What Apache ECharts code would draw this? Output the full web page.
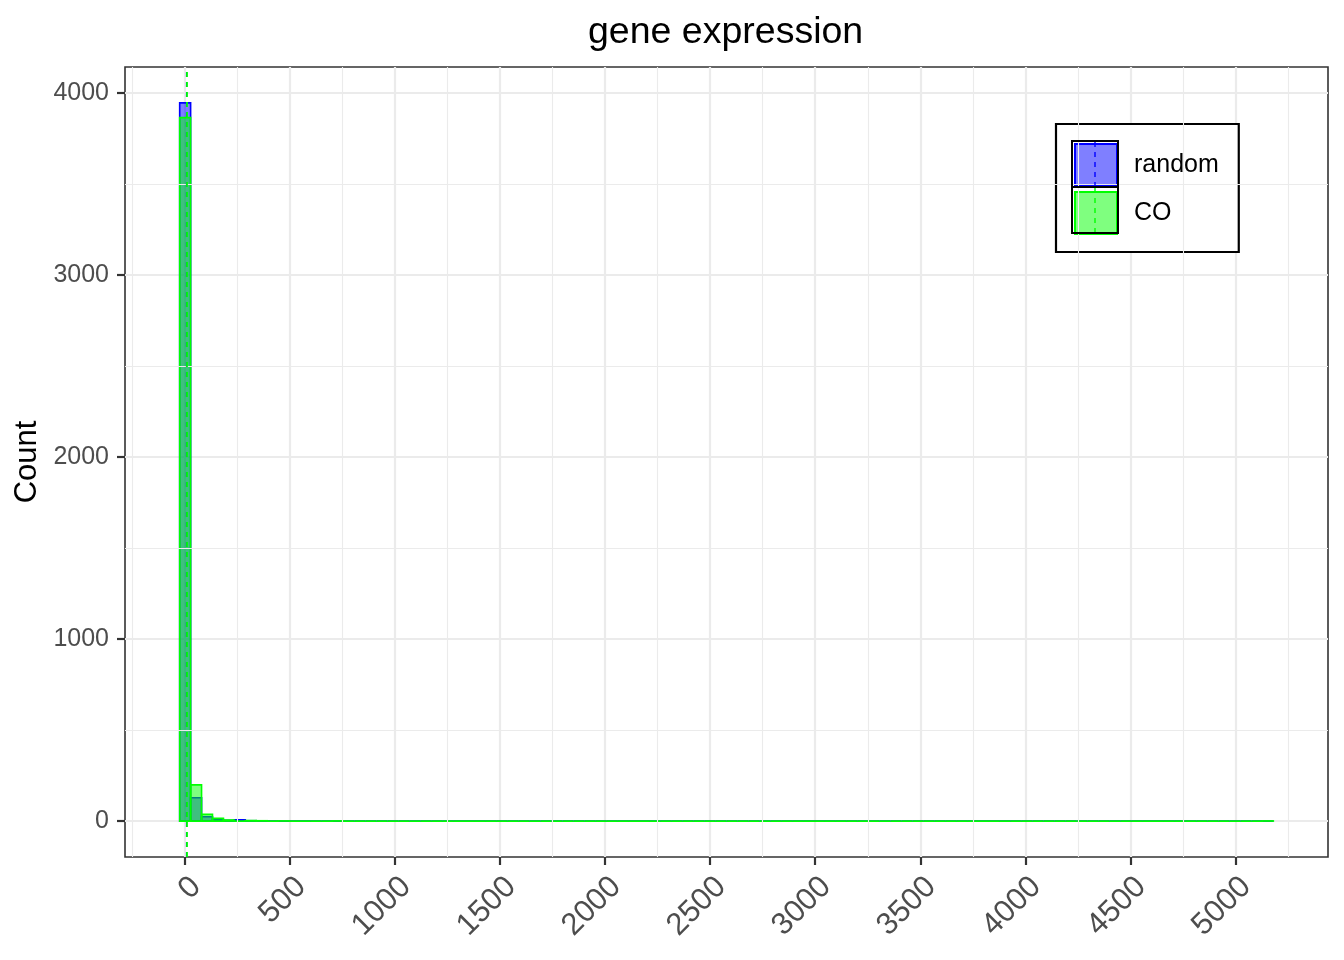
<!DOCTYPE html>
<html>
<head>
<meta charset="utf-8">
<title>gene expression</title>
<script src="https://cdn.jsdelivr.net/npm/echarts@6/dist/echarts.min.js"></script>
<style>
    html, body { margin: 0; padding: 0; background: #fff; }
    #main { width: 1344px; height: 960px; }
</style>
</head>
<body>
<div id="main"></div>
<script>
// histogram, 100 bins shared by both groups, first bin centred on 0
var binWidth = 52.07;
var binTotal = 100;

// non-empty bins (bin index) and their counts
var randomBins = [0, 1, 2, 3, 4, 5, 6, 7];
var randomCounts = [3944, 128, 24, 9, 4, 7, 2, 1];
var coBins = [0, 1, 2, 3, 4, 6, 7, 9, 14, 99];
var coCounts = [3863, 199, 37, 15, 6, 3, 2, 1, 1, 1];

// group means, drawn as dashed lines
var randomMean = 7;
var coMean = 7;

var xTicks = [0, 500, 1000, 1500, 2000, 2500, 3000, 3500, 4000, 4500, 5000];
var yTicks = [0, 1000, 2000, 3000, 4000];
var xMinor = [-250, 250, 750, 1250, 1750, 2250, 2750, 3250, 3750, 4250, 4750, 5250];
var yMinor = [500, 1500, 2500, 3500];

var FONT = 'Liberation Sans, Arial, sans-serif';

function binData(idx, counts) {
    var out = [];
    for (var k = 0; k < binTotal; k++) {
        var j = idx.indexOf(k);
        out.push([(k - 0.5) * binWidth, (k + 0.5) * binWidth, j >= 0 ? counts[j] : 0]);
    }
    return out;
}

function drawBin(fill, stroke) {
    return function (params, api) {
        var a = api.coord([api.value(0), 0]);
        var b = api.coord([api.value(1), api.value(2)]);
        return {
            type: 'polygon',
            shape: {points: [[a[0], a[1]], [a[0], b[1]], [b[0], b[1]], [b[0], a[1]]]},
            style: {fill: fill, stroke: stroke, lineWidth: 1.6}
        };
    };
}

function plain(v) {
    return String(v);
}

// ggplot style 5% expansion of the data range
var xMin = -5.5 * binWidth, xMax = (binTotal + 4.5) * binWidth;
var yTop = Math.max.apply(null, randomCounts.concat(coCounts));
var yMin = -0.05 * yTop, yMax = 1.05 * yTop;

var minorLines = [];
xMinor.forEach(function (v) { minorLines.push({xAxis: v}); });
yMinor.forEach(function (v) { minorLines.push({yAxis: v}); });

var chart = echarts.init(document.getElementById('main'));
var option = {
    animation: false,
    backgroundColor: '#fff',
    textStyle: {fontFamily: FONT},
    title: {
        text: 'gene expression',
        left: 588,
        top: 14,
        padding: 0,
        textStyle: {fontSize: 37.5, fontWeight: 'normal', color: '#000', fontFamily: FONT}
    },
    grid: {
        left: 125, right: 16, top: 67, bottom: 103,
        show: true, backgroundColor: 'transparent',
        borderColor: '#333333', borderWidth: 1.6
    },
    legend: {
        left: 1056, top: 124, orient: 'vertical',
        padding: [19, 20, 17, 18],
        itemWidth: 42, itemHeight: 42, itemGap: 4,
        backgroundColor: '#fff', borderColor: '#000', borderWidth: 2.2,
        textStyle: {fontSize: 25, color: '#000', fontFamily: FONT, padding: [0, 0, 0, 12]},
        data: [
            {name: 'random', icon: 'rect', itemStyle: {color: '#7F7FFF', borderColor: '#0000FF', borderWidth: 2}},
            {name: 'CO', icon: 'rect', itemStyle: {color: '#7FFF7F', borderColor: '#00FF00', borderWidth: 2}}
        ]
    },
    graphic: [
        {type: 'rect', z: 100, shape: {x: 1072, y: 141, width: 46, height: 46}, style: {fill: 'none', stroke: '#000', lineWidth: 2}},
        {type: 'rect', z: 100, shape: {x: 1072, y: 187, width: 46, height: 46}, style: {fill: 'none', stroke: '#000', lineWidth: 2}},
        {type: 'line', z: 100, shape: {x1: 1095, y1: 142, x2: 1095, y2: 186}, style: {stroke: '#0000FF', lineWidth: 1.4, lineDash: [5, 5]}},
        {type: 'line', z: 100, shape: {x1: 1095, y1: 188, x2: 1095, y2: 232}, style: {stroke: '#00FF00', lineWidth: 1.4, lineDash: [5, 5]}}
    ],
    xAxis: {
        type: 'value',
        min: xMin, max: xMax,
        splitNumber: 12,
        axisLine: {show: false, onZero: false},
        axisTick: {show: true, length: 8, lineStyle: {color: '#333333', width: 2.2}, customValues: xTicks},
        axisLabel: {
            customValues: xTicks, formatter: plain,
            rotate: 45, margin: 14, verticalAlign: 'top',
            fontSize: 31, color: '#4D4D4D', fontFamily: FONT
        },
        splitLine: {show: true, lineStyle: {color: '#EBEBEB', width: 2.2}}
    },
    yAxis: {
        type: 'value',
        min: yMin, max: yMax,
        name: 'Count', nameLocation: 'middle', nameGap: 70, nameRotate: 90,
        nameTextStyle: {fontSize: 31, color: '#000', fontFamily: FONT},
        axisLine: {show: false, onZero: false},
        axisTick: {show: true, length: 8, lineStyle: {color: '#333333', width: 2.2}, customValues: yTicks},
        axisLabel: {customValues: yTicks, formatter: plain, margin: 16, fontSize: 25, color: '#4D4D4D', fontFamily: FONT},
        splitLine: {show: true, lineStyle: {color: '#EBEBEB', width: 2.2}}
    },
    series: [
        {
            name: 'grid', type: 'line', data: [], z: 1, silent: true,
            markLine: {
                silent: true, symbol: 'none', label: {show: false},
                lineStyle: {color: '#EBEBEB', width: 1.1, type: 'solid'},
                data: minorLines
            }
        },
        {
            name: 'random', type: 'custom', z: 2, clip: true,
            encode: {x: [0, 1], y: 2},
            itemStyle: {color: '#7F7FFF', borderColor: '#0000FF'},
            renderItem: drawBin('rgba(0,0,255,0.5)', '#0000FF'),
            data: binData(randomBins, randomCounts),
            markLine: {
                silent: true, symbol: 'none', label: {show: false},
                lineStyle: {color: '#0000FF', width: 1.2, type: [5, 5], opacity: 1},
                data: [{xAxis: randomMean}]
            }
        },
        {
            name: 'CO', type: 'custom', z: 3, clip: true,
            encode: {x: [0, 1], y: 2},
            itemStyle: {color: '#7FFF7F', borderColor: '#00FF00'},
            renderItem: drawBin('rgba(0,255,0,0.5)', '#00FF00'),
            data: binData(coBins, coCounts),
            markLine: {
                silent: true, symbol: 'none', label: {show: false},
                lineStyle: {color: '#00FF00', width: 1.8, type: [5, 5], opacity: 1},
                data: [{xAxis: coMean}]
            }
        }
    ]
};
chart.setOption(option);
</script>
</body>
</html>
